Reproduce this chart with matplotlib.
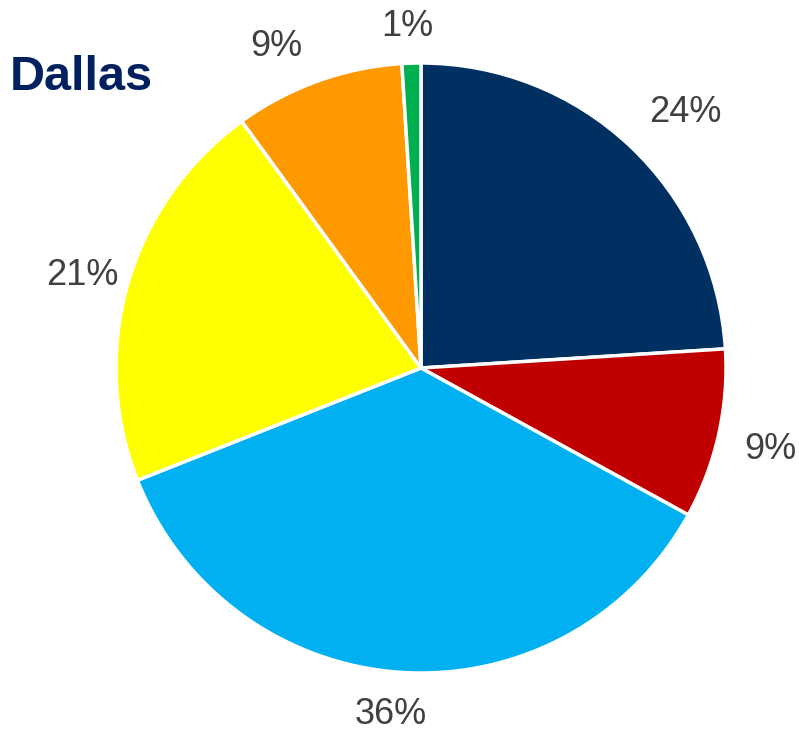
import matplotlib
matplotlib.use('Agg')
import matplotlib.pyplot as plt
import numpy as np

# Share of each category (percent), clockwise from 12 o'clock
shares = [24, 9, 36, 21, 9, 1]
labels = ['24%', '9%', '36%', '21%', '9%', '1%']
colors = ['#002F62', '#C00000', '#00B0F0', '#FFFF00', '#FF9900', '#00B050']

# label placement (distance from centre in radii, angle nudge in degrees)
label_dist = [1.215, 1.175, 1.13, 1.155, 1.167, 1.132]
label_nudge = [-2.4, 0, -1.4, 0.4, 4.2, 0.4]

plt.rcParams['font.family'] = ['Liberation Sans', 'DejaVu Sans']

fig = plt.figure(figsize=(7.99, 7.31), dpi=100)
ax = fig.add_axes([116 / 799, 58 / 731, 610 / 799, 610 / 731])

wedges, _ = ax.pie(shares, colors=colors, startangle=90, counterclock=False,
                   radius=1, wedgeprops=dict(edgecolor='white', linewidth=2.5))

# percentage labels outside the slices
for w, lab, d, n in zip(wedges, labels, label_dist, label_nudge):
    ang = np.deg2rad((w.theta1 + w.theta2) / 2 + n)
    ax.text(d * np.cos(ang), d * np.sin(ang) - 0.012, lab, fontsize=26,
            color='#404040', ha='center', va='center')

ax.set_xlim(-1, 1)
ax.set_ylim(-1, 1)
ax.set_aspect('equal')

fig.text(10 / 799, 1 - 77 / 731, 'Dallas', fontsize=35, fontweight='bold',
         color='#002060', ha='left', va='center')

fig.savefig('out.png', dpi=100)
